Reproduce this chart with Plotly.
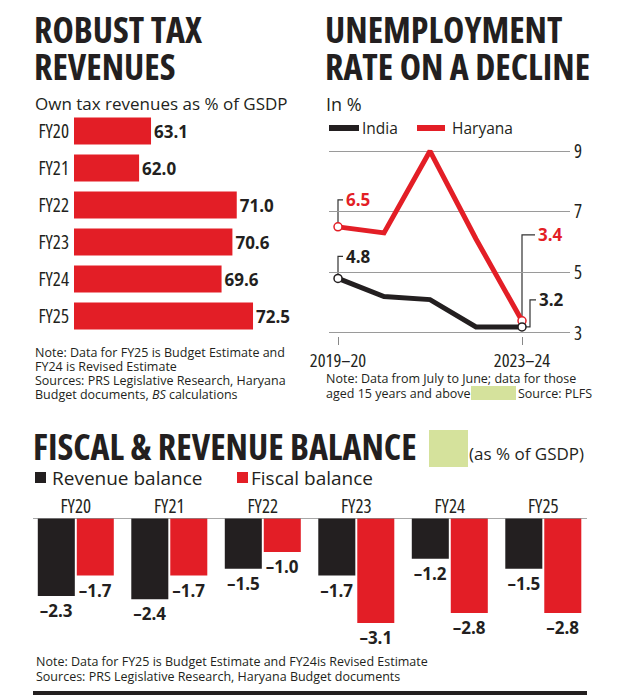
import plotly.graph_objects as go

W, H = 620, 697
OFF = 8  # page body margin of the exported html


def px(x):
    return (x - OFF) / W


def py(y):
    return 1 - (y - OFF) / H


# ---------------- data ----------------
tax_years = ["FY20", "FY21", "FY22", "FY23", "FY24", "FY25"]
tax_revenue = [63.1, 62.0, 71.0, 70.6, 69.6, 72.5]

unemp_years = ["2019–20", "2020–21", "2021–22", "2022–23", "2023–24"]
unemp_ticks = ["2019–20", "2023–24"]
india = [4.8, 4.2, 4.1, 3.2, 3.2]
haryana = [6.5, 6.3, 9.0, 6.1, 3.4]
unemp_yticks = [3, 5, 7, 9]

bal_years = ["FY20", "FY21", "FY22", "FY23", "FY24", "FY25"]
revenue_balance = [-2.3, -2.4, -1.5, -1.7, -1.2, -1.5]
fiscal_balance = [-1.7, -1.7, -1.0, -3.1, -2.8, -2.8]

# ---------------- style ----------------
RED = "#e31e26"
DARK = "#231f20"
GREEN = "#d5e29c"
GRID = "#9a9a9a"
FONT = "Open Sans, Roboto, sans-serif"


def st(s, stretch="condensed"):
    return f"<span style='font-stretch:{stretch}'>{s}</span>"


def fmt(v):
    return f"{v:.1f}".replace("-", "–")


fig = go.Figure()

# Left: horizontal bars
fig.add_trace(go.Bar(
    x=tax_revenue, y=tax_years, orientation="h", width=0.73,
    marker=dict(color=RED, line=dict(width=0)),
    text=[fmt(v) for v in tax_revenue], textposition="outside", cliponaxis=False,
    textfont=dict(family=FONT, size=17, color=DARK, weight=700),
    xaxis="x", yaxis="y", showlegend=False, hoverinfo="skip",
))

# Right: lines
for vals, color in [(haryana, RED), (india, DARK)]:
    fig.add_trace(go.Scatter(
        x=unemp_years, y=vals, mode="lines",
        line=dict(color=color, width=5),
        xaxis="x2", yaxis="y2", showlegend=False, hoverinfo="skip", cliponaxis=False,
    ))
for vals, color in [(haryana, RED), (india, DARK)]:
    fig.add_trace(go.Scatter(
        x=[unemp_years[0], unemp_years[-1]], y=[vals[0], vals[-1]], mode="markers",
        marker=dict(size=8, color="white", line=dict(color=color, width=1.5)),
        xaxis="x2", yaxis="y2", showlegend=False, hoverinfo="skip", cliponaxis=False,
    ))

# Bottom: grouped bars
for vals, color, off in [(revenue_balance, DARK, -0.406), (fiscal_balance, RED, 0.011)]:
    fig.add_trace(go.Bar(
        x=bal_years, y=vals, width=0.396, offset=off,
        marker=dict(color=color, line=dict(width=0)),
        text=[fmt(v) for v in vals], textposition="outside", cliponaxis=False,
        textfont=dict(family=FONT, size=17, color=DARK, weight=700),
        xaxis="x3", yaxis="y3", showlegend=False, hoverinfo="skip",
    ))

# ---------------- shapes ----------------
shapes = []
shapes.append(dict(type="line", xref="paper", yref="y3", x0=px(33), x1=px(587), y0=0, y1=0,
                   line=dict(color="#8a8a8a", width=1.5)))
shapes.append(dict(type="line", xref="paper", yref="paper", x0=px(33), x1=px(587), y0=py(693), y1=py(693),
                   line=dict(color=DARK, width=4)))
shapes.append(dict(type="rect", xref="paper", yref="paper", x0=px(429), x1=px(468), y0=py(467), y1=py(430),
                   fillcolor=GREEN, line=dict(width=0)))
shapes.append(dict(type="rect", xref="paper", yref="paper", x0=px(471), x1=px(516), y0=py(400), y1=py(386),
                   fillcolor=GREEN, line=dict(width=0)))
shapes.append(dict(type="line", xref="paper", yref="paper", x0=px(329), x1=px(359), y0=py(128), y1=py(128),
                   line=dict(color=DARK, width=6)))
shapes.append(dict(type="line", xref="paper", yref="paper", x0=px(417), x1=px(445), y0=py(128), y1=py(128),
                   line=dict(color=RED, width=6)))
shapes.append(dict(type="rect", xref="paper", yref="paper", x0=px(35), x1=px(46), y0=py(483), y1=py(472),
                   fillcolor=DARK, line=dict(width=0)))
shapes.append(dict(type="rect", xref="paper", yref="paper", x0=px(237), x1=px(248), y0=py(483), y1=py(472),
                   fillcolor=RED, line=dict(width=0)))

XS, YS = 46.0, 30.3
leader = dict(color="#333333", width=1.2)
i0, i1 = 0, len(unemp_years) - 1
lab_h0 = haryana[0] + 27 / YS
lab_i0 = india[0] + 22 / YS
lab_h1 = haryana[-1] + 86 / YS
lab_i1 = india[-1] + 27 / YS
for path in [
    [(i0, haryana[0]), (i0, lab_h0), (i0 + 5 / XS, lab_h0)],
    [(i0, india[0]), (i0, lab_i0), (i0 + 5 / XS, lab_i0)],
    [(i1, haryana[-1]), (i1, lab_h1), (i1 + 13 / XS, lab_h1)],
    [(i1, india[-1]), (i1 + 8 / XS, india[-1]), (i1 + 8 / XS, lab_i1), (i1 + 14 / XS, lab_i1)],
]:
    d = "M " + " L ".join(f"{x},{y}" for x, y in path)
    shapes.append(dict(type="path", path=d, xref="x2", yref="y2", line=leader, layer="below"))

# ---------------- annotations ----------------
anns = []


def ann(text, x, y, size, color=DARK, weight=400, stretch="normal", xanchor="left", xref="paper", yref="paper"):
    anns.append(dict(
        text=st(text, stretch) if stretch != "normal" else text,
        x=px(x) if xref == "paper" else x, y=py(y) if yref == "paper" else y,
        xref=xref, yref=yref, xanchor=xanchor, yanchor="middle", showarrow=False,
        font=dict(family=FONT, size=size, color=color, weight=weight),
    ))


ann("ROBUST TAX", 32, 29, 36, weight=700, stretch="condensed")
ann("REVENUES", 32, 66, 36, weight=700, stretch="condensed")
ann("UNEMPLOYMENT", 323, 29, 36, weight=700, stretch="condensed")
ann("RATE ON A DECLINE", 323, 66, 36, weight=700, stretch="condensed")
ann("FISCAL & REVENUE BALANCE", 31, 446, 36, weight=700, stretch="condensed")

ann("Own tax revenues as % of GSDP", 33, 104, 17)
ann("In %", 324, 104, 18)
ann("India", 360, 128, 15.5)
ann("Haryana", 450, 128, 15.5)
ann("(as % of GSDP)", 467, 453, 17)
ann("Revenue balance", 50, 478, 19)
ann("Fiscal balance", 249, 478, 19)

note_left = [
    "Note: Data for FY25 is Budget Estimate and",
    "FY24 is Revised Estimate",
    "Sources: PRS Legislative Research, Haryana",
    "Budget documents, <i>BS</i> calculations",
]
for k, line in enumerate(note_left):
    ann(line, 33, 352 + 14 * k, 12.5)
ann("Note: Data from July to June; data for those", 324, 378, 12.5)
ann("aged 15 years and above", 324, 393, 12.5)
ann("Source: PLFS", 516, 393, 12.5)
ann("Note: Data for FY25 is Budget Estimate and FY24is Revised Estimate", 34, 661, 12.5)
ann("Sources: PRS Legislative Research, Haryana Budget documents", 34, 676, 12.5)

ann(fmt(haryana[0]), i0 + 6 / XS, lab_h0, 17, color=RED, weight=700, xref="x2", yref="y2")
ann(fmt(india[0]), i0 + 6 / XS, lab_i0, 17, color=DARK, weight=700, xref="x2", yref="y2")
ann(fmt(haryana[-1]), i1 + 14 / XS, lab_h1, 17, color=RED, weight=700, xref="x2", yref="y2")
ann(fmt(india[-1]), i1 + 15 / XS, lab_i1, 17, color=DARK, weight=700, xref="x2", yref="y2")

common = dict(automargin=False, showgrid=False, zeroline=False, showline=False)
fig.update_layout(
    width=W, height=H, margin=dict(l=0, r=0, t=0, b=0, autoexpand=False),
    paper_bgcolor="white", plot_bgcolor="white",
    barmode="overlay", showlegend=False,
    shapes=shapes, annotations=anns,
    xaxis=dict(domain=[px(74), px(300)], range=[56, 56 + 226 / 10.85], anchor="y",
               showticklabels=False, **common),
    yaxis=dict(domain=[py(334.5), py(112.5)], type="category", autorange="reversed", anchor="x",
               ticks="", ticklabelstandoff=4, tickvals=tax_years, ticktext=[st(t) for t in tax_years],
               tickfont=dict(family=FONT, size=19, color=DARK), **common),
    xaxis2=dict(domain=[px(329), px(570)], type="category", range=[-9 / XS, 232 / XS], anchor="y2",
                tickvals=unemp_ticks, ticktext=[st(t) for t in unemp_ticks],
                ticks="outside", ticklen=8, tickcolor="#888888", tickwidth=1.2,
                tickfont=dict(family=FONT, size=18.5, color=DARK), **common),
    yaxis2=dict(domain=[py(336), py(145)], range=[2.9, 9.2], side="right", anchor="x2",
                tickvals=unemp_yticks, ticktext=[st(str(v)) for v in unemp_yticks], ticks="",
                showgrid=True, gridcolor=GRID, gridwidth=1, zeroline=False, showline=False,
                automargin=False, ticklabelstandoff=3,
                tickfont=dict(family=FONT, size=19, color=DARK)),
    xaxis3=dict(domain=[px(29), px(590)], type="category", side="top", anchor="y3",
                ticks="", tickvals=bal_years, ticktext=[st(t) for t in bal_years],
                tickfont=dict(family=FONT, size=19, color=DARK), **common),
    yaxis3=dict(domain=[py(640), py(518)], range=[-3.6, 0], anchor="x3", visible=False, automargin=False),
)

fig.write_html("out.html")
